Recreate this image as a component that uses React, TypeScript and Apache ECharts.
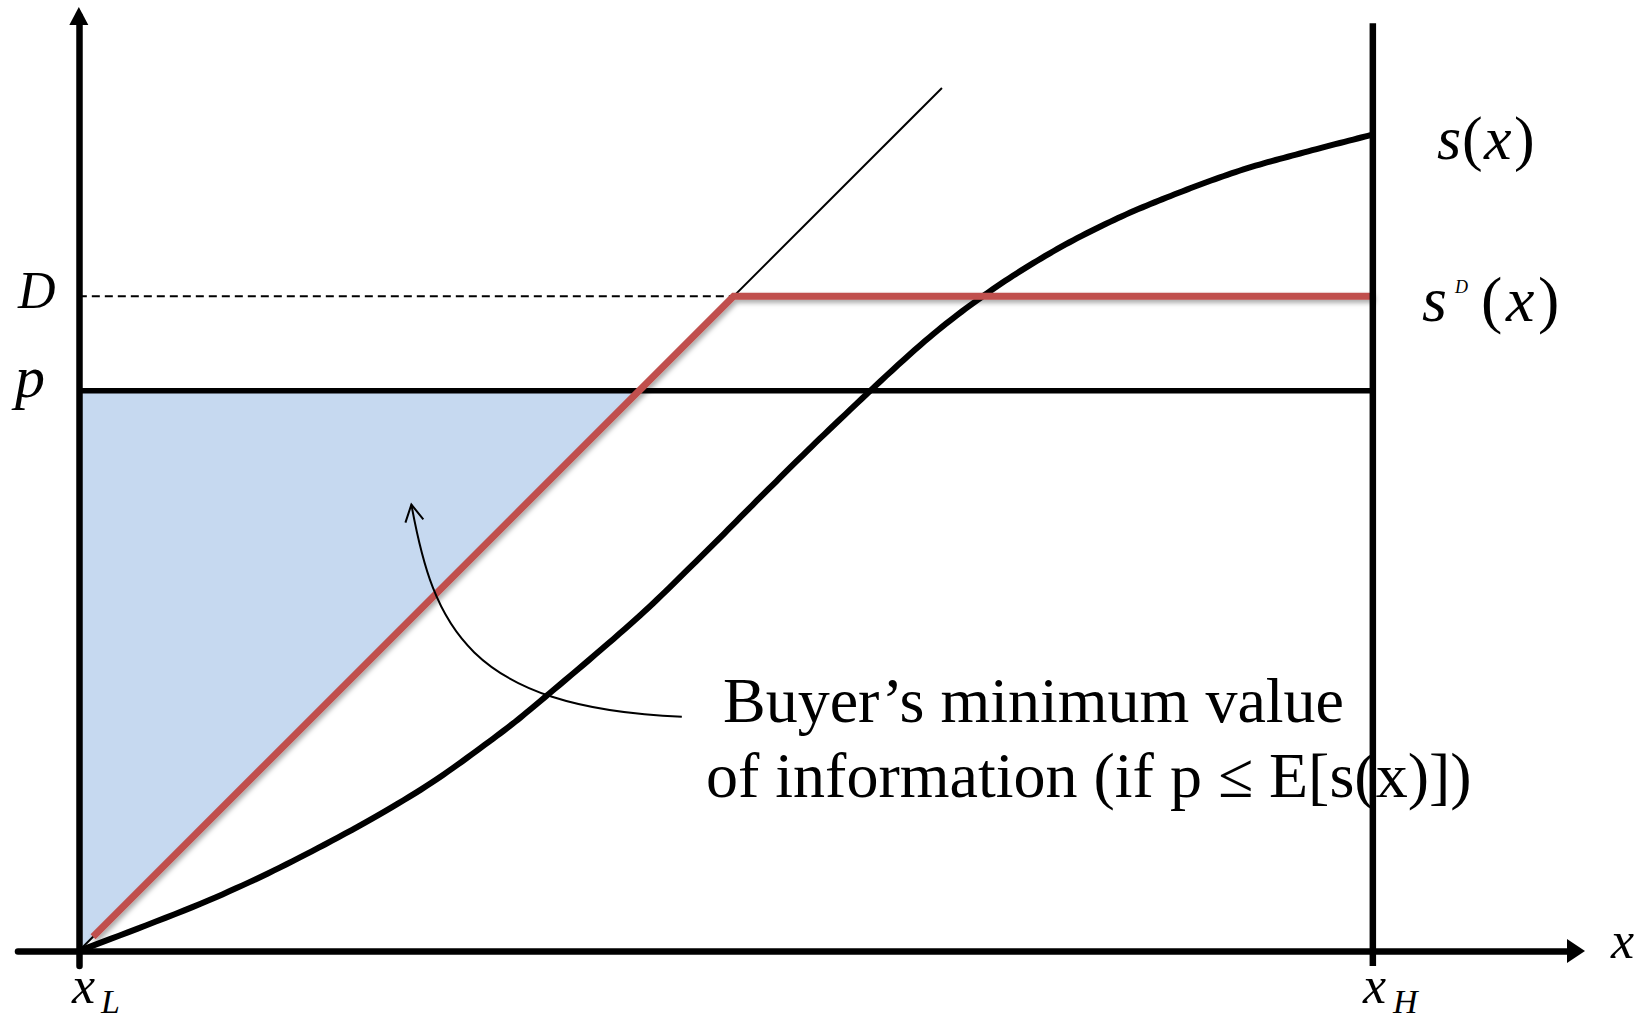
import React, { useEffect, useRef } from "react";
import * as echarts from "echarts";

// ---- axis extents (data units: x_L = 0, x_H = 10) ----
const X_MIN = -0.47;
const X_MAX = 11.57;
const Y_MIN = -0.116;
const Y_MAX = 7.226;

// ---- key values ----
const X_L = 0;
const X_H = 10;
const P_VALUE = 4.33;
const D_VALUE = 5.06;
const X_H_TOP = 7.17;
const DIAGONAL_END = 6.67;
const SD_START = 0.11;

// ---- s(x) curve ----
const sCurveX = [0, 1.0, 1.8, 2.6, 3.2, 3.6, 4.3, 4.8, 5.3, 5.8, 6.5, 7.0, 7.5, 8.0, 8.5, 9.0, 9.5, 10];
const sCurveY = [0, 0.39, 0.77, 1.22, 1.64, 1.96, 2.56, 3.04, 3.54, 4.03, 4.68, 5.07, 5.39, 5.65, 5.86, 6.04, 6.18, 6.31];

// ---- annotation arrow (cubic bezier: start, control1, control2, tip) ----
const annotationX = [4.66, 3.0, 2.74, 2.57];
const annotationY = [1.81, 1.88, 2.52, 3.45];

// ---- texts ----
const annotationLines = ["Buyer\u2019s minimum value", "of information (if p \u2264 E[s(x)])"];

const SERIF = '"Liberation Serif", "Times New Roman", serif';

function centerY(baseline: number, fs: number) {
  return baseline - 0.3375 * fs;
}

function txt(text: string, left: number, baseline: number, fs: number, italic: boolean) {
  return {
    type: "text",
    x: left,
    y: centerY(baseline, fs),
    silent: true,
    z: 100,
    style: {
      text,
      fill: "#000",
      font: `${italic ? "italic " : ""}${fs}px ${SERIF}`,
      fontSize: fs,
      fontFamily: SERIF,
      fontStyle: italic ? "italic" : "normal",
      align: "left",
      textAlign: "left",
      verticalAlign: "middle",
      textVerticalAlign: "middle",
    },
  };
}

// Catmull-Rom spline sampled in pixel space
function spline(pts: number[][], steps: number) {
  const out: number[][] = [];
  const n = pts.length;
  for (let i = 0; i < n - 1; i++) {
    const p0 = pts[Math.max(0, i - 1)];
    const p1 = pts[i];
    const p2 = pts[i + 1];
    const p3 = pts[Math.min(n - 1, i + 2)];
    const c1 = [p1[0] + (p2[0] - p0[0]) / 6, p1[1] + (p2[1] - p0[1]) / 6];
    const c2 = [p2[0] - (p3[0] - p1[0]) / 6, p2[1] - (p3[1] - p1[1]) / 6];
    for (let k = 0; k < steps; k++) {
      const t = k / steps;
      const u = 1 - t;
      out.push([
        u * u * u * p1[0] + 3 * u * u * t * c1[0] + 3 * u * t * t * c2[0] + t * t * t * p2[0],
        u * u * u * p1[1] + 3 * u * u * t * c1[1] + 3 * u * t * t * c2[1] + t * t * t * p2[1],
      ]);
    }
  }
  out.push(pts[n - 1]);
  return out;
}

export default function App() {
  const ref = useRef<HTMLDivElement>(null);

  useEffect(() => {
    if (!ref.current) return;
    const chart = echarts.init(ref.current, undefined, { renderer: "svg" });

    const sCurve = sCurveX.map((x, i) => [x, sCurveY[i]]);
    const blueRegion = [
      [X_L, 0],
      [X_L, P_VALUE],
      [P_VALUE, P_VALUE],
    ];
    const annotation = annotationX.map((x, i) => [x, annotationY[i]]);

    const axisCommon = {
      type: "value",
      z: 10,
      axisTick: { show: false },
      axisLabel: { show: false },
      splitLine: { show: false },
    };

    const option: any = {
      animation: false,
      backgroundColor: "#ffffff",
      grid: { left: 18, right: 76, top: 16, bottom: 55, containLabel: false },
      xAxis: {
        ...axisCommon,
        min: X_MIN,
        max: X_MAX,
        axisLine: {
          show: true,
          onZero: true,
          symbol: ["none", "triangle"],
          symbolSize: [24, 18],
          lineStyle: { color: "#000", width: 6.5 },
        },
      },
      yAxis: {
        ...axisCommon,
        min: Y_MIN,
        max: Y_MAX,
        axisLine: {
          show: true,
          onZero: true,
          symbol: ["none", "triangle"],
          symbolSize: [19, 18],
          lineStyle: { color: "#000", width: 6.5 },
        },
      },
      series: [
        {
          type: "custom",
          silent: true,
          z: 1,
          data: [[0, 0]],
          renderItem: (_p: any, api: any) => {
            const pts = blueRegion.map((pt) => api.coord(pt));
            return { type: "polygon", shape: { points: pts }, style: { fill: "#c6d9f0" } };
          },
        },
        {
          type: "line",
          silent: true,
          z: 2,
          symbol: "none",
          data: [
            [X_L, P_VALUE],
            [X_H, P_VALUE],
          ],
          lineStyle: { color: "#000", width: 5.5 },
        },
        {
          type: "line",
          silent: true,
          z: 2,
          symbol: "none",
          data: [
            [X_L, D_VALUE],
            [D_VALUE, D_VALUE],
          ],
          lineStyle: { color: "#000", width: 2, type: [8, 5] },
        },
        {
          type: "line",
          silent: true,
          z: 2,
          symbol: "none",
          data: [
            [X_L, 0],
            [DIAGONAL_END, DIAGONAL_END],
          ],
          lineStyle: { color: "#000", width: 2 },
        },
        {
          type: "custom",
          silent: true,
          z: 3,
          data: [[0, 0]],
          renderItem: (_p: any, api: any) => {
            const px = sCurve.map((pt) => api.coord(pt));
            return {
              type: "polyline",
              shape: { points: spline(px, 16) },
              style: { stroke: "#000", lineWidth: 6, fill: "none", lineJoin: "round" },
            };
          },
        },
        {
          type: "line",
          silent: true,
          z: 4,
          symbol: "none",
          data: [
            [SD_START, SD_START],
            [D_VALUE, D_VALUE],
            [X_H, D_VALUE],
          ],
          lineStyle: {
            color: "#c0504d",
            width: 7,
            cap: "butt",
            join: "miter",
            shadowColor: "rgba(0,0,0,0.35)",
            shadowBlur: 5,
            shadowOffsetX: 2,
            shadowOffsetY: 3,
          },
        },
        {
          type: "line",
          silent: true,
          z: 5,
          symbol: "none",
          data: [
            [X_H, Y_MIN],
            [X_H, X_H_TOP],
          ],
          lineStyle: { color: "#000", width: 6.5, cap: "butt" },
        },
        {
          type: "custom",
          silent: true,
          z: 6,
          data: [[0, 0]],
          renderItem: (_p: any, api: any) => {
            const [p0, p1, p2, p3] = annotation.map((pt) => api.coord(pt));
            const dx = p3[0] - p2[0];
            const dy = p3[1] - p2[1];
            const len = Math.hypot(dx, dy) || 1;
            const bx = -dx / len;
            const by = -dy / len;
            const a = 0.5;
            const L = 19;
            const rot = (ang: number) => [
              p3[0] + L * (bx * Math.cos(ang) - by * Math.sin(ang)),
              p3[1] + L * (bx * Math.sin(ang) + by * Math.cos(ang)),
            ];
            return {
              type: "group",
              children: [
                {
                  type: "bezierCurve",
                  shape: {
                    x1: p0[0],
                    y1: p0[1],
                    cpx1: p1[0],
                    cpy1: p1[1],
                    cpx2: p2[0],
                    cpy2: p2[1],
                    x2: p3[0],
                    y2: p3[1],
                  },
                  style: { stroke: "#000", lineWidth: 2, fill: "none" },
                },
                {
                  type: "polyline",
                  shape: { points: [rot(a), p3, rot(-a)] },
                  style: { stroke: "#000", lineWidth: 2, fill: "none" },
                },
              ],
            };
          },
        },
      ],
      graphic: [
        txt("D", 18, 308, 52, true),
        txt("p", 15, 397, 60, true),
        txt("x", 72, 1003, 52, true),
        txt("L", 101, 1013, 34, true),
        txt("x", 1363, 1003, 52, true),
        txt("H", 1393, 1013, 34, true),
        txt("x", 1611, 958, 52, true),
        txt("s", 1437, 159, 62, true),
        txt("(", 1462, 159, 62, false),
        txt("x", 1484, 159, 62, true),
        txt(")", 1514, 159, 62, false),
        txt("s", 1422, 321, 64, true),
        txt("D", 1455, 293, 18, true),
        txt("(", 1481, 321, 64, false),
        txt("x", 1506, 321, 64, true),
        txt(")", 1538, 321, 64, false),
        txt(annotationLines[0], 723, 722, 64, false),
        txt(annotationLines[1], 706, 797, 64, false),
      ],
    };

    chart.setOption(option);
    return () => chart.dispose();
  }, []);

  return (
    <div
      ref={ref}
      style={{ position: "fixed", left: 0, top: 0, width: 1652, height: 1021, background: "#fff" }}
    />
  );
}
